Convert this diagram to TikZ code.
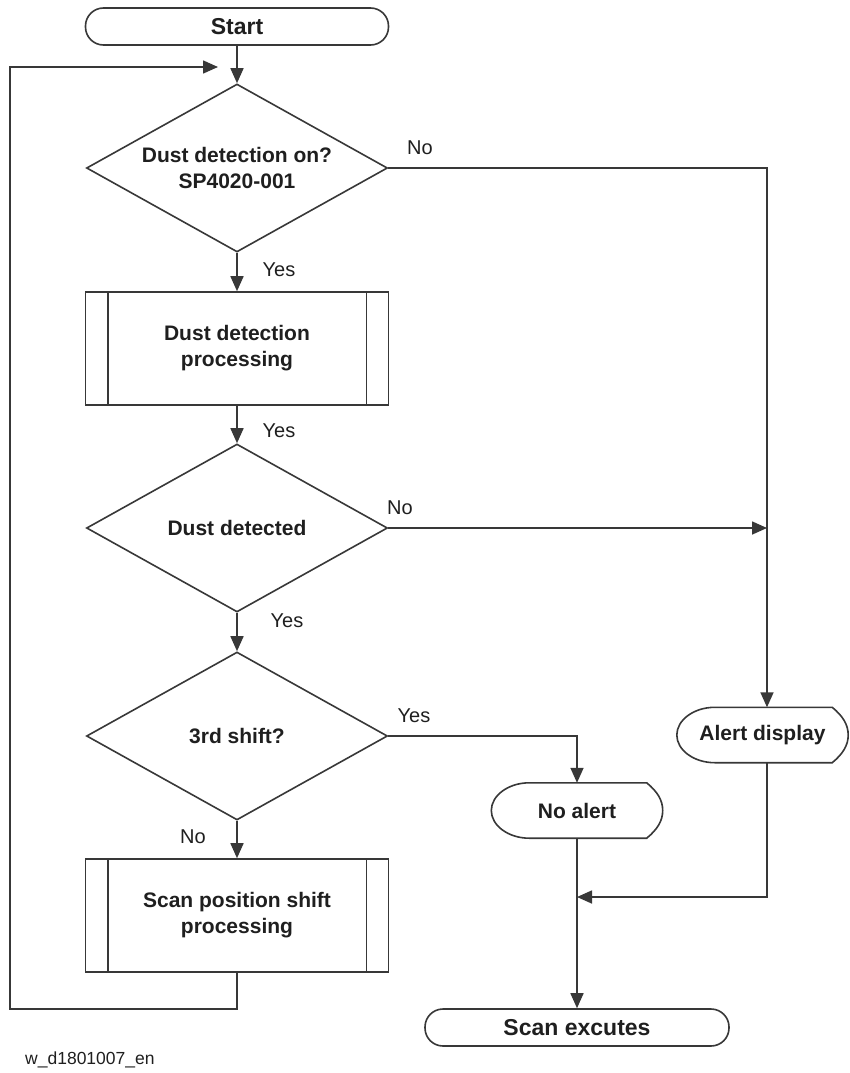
\documentclass[tikz,border=0pt]{standalone}
\usepackage{fontspec}
\setmainfont{Liberation Sans}
\usetikzlibrary{shapes.geometric,arrows.meta,calc}
\begin{document}
\begin{tikzpicture}[x=1pt,y=-1pt,
  line/.style={draw=black!78,line width=1.6pt},
  arr/.style={line,-{Triangle[length=15pt,width=13pt]}},
  txt/.style={font=\fontsize{21}{26}\selectfont\bfseries,text=black!88,align=center},
  lbl/.style={font=\fontsize{20}{24}\selectfont,text=black!88,inner sep=0pt},
  term/.style={txt,line,rounded corners=18pt,minimum width=303pt,minimum height=37pt,inner sep=0pt,
    font=\fontsize{23}{27}\selectfont\bfseries},
  decision/.style={txt,line,diamond,aspect=1.79,minimum width=301pt,minimum height=168pt,inner sep=0pt},
  predef/.style={txt,line,rectangle,minimum width=303pt,minimum height=113pt,inner sep=0pt},
  disp/.style={txt,rectangle,minimum width=171pt,minimum height=55pt,inner sep=0pt}
]
\useasboundingbox[fill=white] (0,0) rectangle (849,1073);

% main column
\node[term] (start) at (237,26.5) {Start};
\node[decision] (d1) at (237,168) {Dust detection on?\\SP4020-001};
\node[predef] (p1) at (237,348.5) {Dust detection\\processing};
\node[decision] (d2) at (237,528) {Dust detected};
\node[decision] (d3) at (237,736) {3rd shift?};
\node[predef] (p2) at (237,915.5) {Scan position shift\\processing};

% side bars of the predefined-process boxes
\foreach \b in {p1,p2}{
  \draw[line] ([xshift=23pt]\b.north west) -- ([xshift=23pt]\b.south west);
  \draw[line] ([xshift=-23pt]\b.north east) -- ([xshift=-23pt]\b.south east);
}

% display symbols
\node[disp] (na) at (577,810.5) {No alert};
\node[disp] (al) at (762.5,735) {Alert display};
\foreach \d in {na,al}{
  \draw[line] ($(\d.north west)+(38,0)$) -- ($(\d.north east)+(-16,0)$)
    .. controls ($(\d.north east)+(-5,9)$) and ($(\d.east)+(0,-10)$) .. (\d.east)
    .. controls ($(\d.east)+(0,10)$) and ($(\d.south east)+(-5,-9)$) .. ($(\d.south east)+(-16,0)$)
    -- ($(\d.south west)+(38,0)$)
    .. controls ($(\d.south west)+(17,0)$) and ($(\d.west)+(0,15)$) .. (\d.west)
    .. controls ($(\d.west)+(0,-15)$) and ($(\d.north west)+(17,0)$) .. ($(\d.north west)+(38,0)$);
}

\node[term,minimum width=304pt] (se) at (577,1027.5) {Scan excutes};

% junction points
\coordinate (j1) at (767,168);
\coordinate (j2) at (767,528);
\coordinate (j3) at (577,736);
\coordinate (j4) at (577,897);
\coordinate (lb) at (10,1009);
\coordinate (lt) at (10,67);
\coordinate (le) at (218,67);

% connectors
\draw[arr] (start.south) -- (d1.north);
\draw[arr] (d1.south) -- (p1.north);
\draw[arr] (p1.south) -- (d2.north);
\draw[arr] (d2.south) -- (d3.north);
\draw[arr] (d3.south) -- (p2.north);
\draw[arr] (p2.south) |- (lb) -- (lt) -- (le);
\draw[arr] (d1.east) -- (j1) -- (j1 |- al.north);
\draw[arr] (d2.east) -- (j2);
\draw[arr] (d3.east) -- (j3) -- (na.north);
\draw[arr] (na.south) -- (se.north);
\draw[arr] (j1 |- al.south) |- (j4);

% branch labels
\node[lbl] at (279,270) {Yes};
\node[lbl] at (279,431) {Yes};
\node[lbl] at (287,621) {Yes};
\node[lbl] at (420,148) {No};
\node[lbl] at (400,508) {No};
\node[lbl] at (414,716) {Yes};
\node[lbl] at (193,837) {No};

\node[lbl,anchor=west,font=\fontsize{17.5}{21}\selectfont] at (25,1060) {w\_d1801007\_en};
\end{tikzpicture}
\end{document}
